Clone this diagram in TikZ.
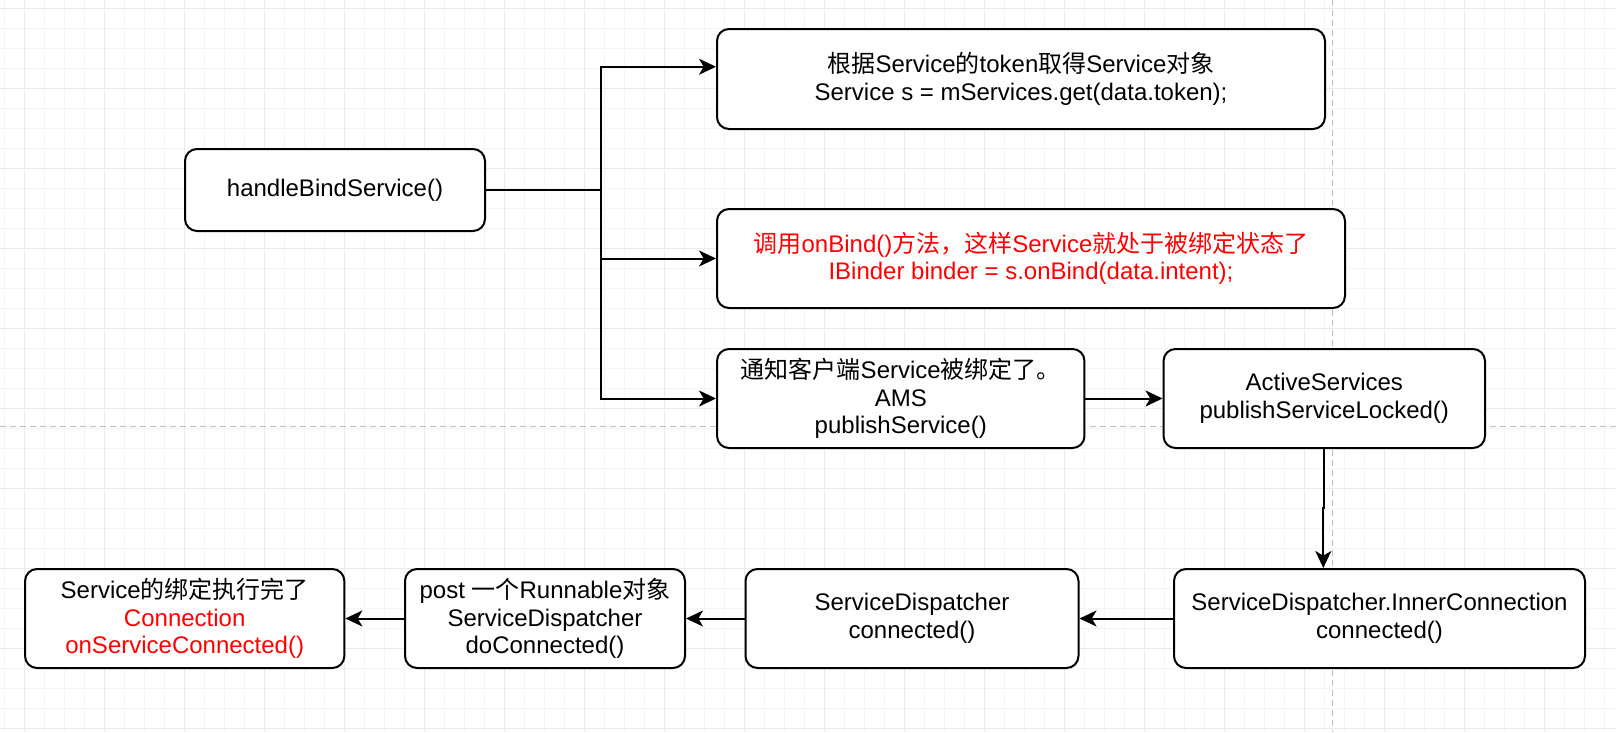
\documentclass[tikz,border=0pt]{standalone}
\usepackage{fontspec}
\setmainfont{Liberation Sans}
\newfontfamily\cjk{Noto Sans CJK SC}
\usetikzlibrary{arrows.meta}
\definecolor{gridmajor}{HTML}{EAEAEA}
\definecolor{gridminor}{HTML}{F5F5F5}
\definecolor{guide}{HTML}{BDBDBD}
\definecolor{txtred}{HTML}{FF0000}
\newcommand\zh[1]{{\cjk #1}}
\begin{document}
\begin{tikzpicture}[x=0.75pt,y=-0.75pt,
  box/.style={draw, line width=1.5pt, rounded corners=9pt, fill=white,
    align=center, inner sep=0pt, minimum height=74.25pt,
    font=\fontsize{18pt}{20.7pt}\selectfont},
  conn/.style={line width=1.5pt},
  arr/.style={line width=1.5pt, -{Stealth[length=12.75pt,width=12pt,inset=3.5pt]}},
  gminor/.style={draw=gridminor, line width=0.75pt},
  gmajor/.style={draw=gridmajor, line width=0.75pt},
  guideline/.style={draw=guide, line width=0.75pt, dash pattern=on 4.5pt off 3pt}]
\fill[white] (0,0) rectangle (1616,732);
\useasboundingbox (0,0) rectangle (1616,732);
% grid
\foreach \i in {0,...,80} {\draw[gminor] ({4.3+20*\i},0) -- ({4.3+20*\i},732);}
\foreach \i in {0,...,36} {\draw[gminor] (0,{8.3+20*\i}) -- (1616,{8.3+20*\i});}
\foreach \i in {0,...,19} {\draw[gmajor] ({24.3+80*\i},0) -- ({24.3+80*\i},732);}
\foreach \i in {0,...,9} {\draw[gmajor] (0,{8.3+80*\i}) -- (1616,{8.3+80*\i});}
% guides
\draw[guideline] (0,426.7) -- (1616,426.7);
\draw[guideline] (1332.7,0) -- (1332.7,732);
% nodes
\node[box, minimum width=225pt, minimum height=61.5pt] (hb) at (335,190) {handleBindService()};
\node[box, minimum width=456pt, minimum height=75pt] (b1) at (1021,79)
  {\zh{根据}Service\zh{的}token\zh{取得}Service\zh{对象}\\Service s = mServices.get(data.token);};
\node[box, minimum width=471pt, text=txtred] (b2) at (1031,258.5)
  {\zh{调用}onBind()\zh{方法，这样}Service\zh{就处于被绑定状态了}\\IBinder binder = s.onBind(data.intent);};
\node[box, minimum width=275.6pt] (b3) at (900.75,398.5)
  {\zh{通知客户端}Service\zh{被绑定了。}\\AMS\\publishService()};
\node[box, minimum width=241.1pt] (act) at (1324.25,398.5)
  {ActiveServices\\publishServiceLocked()};
\node[box, minimum width=308.25pt] (inner) at (1379.5,618.5)
  {ServiceDispatcher.InnerConnection\\connected()};
\node[box, minimum width=249.75pt] (sd) at (912,618.5)
  {ServiceDispatcher\\connected()};
\node[box, minimum width=210pt] (post) at (545,618.5)
  {post \zh{一个}Runnable\zh{对象}\\ServiceDispatcher\\doConnected()};
\node[box, minimum width=239.5pt] (svc) at (184.7,618.5)
  {Service\zh{的绑定执行完了}\\{\color{txtred}Connection}\\{\color{txtred}onServiceConnected()}};
% connectors
\coordinate (br) at (601,190);
\coordinate (jog) at (1323.3,508);
\draw[conn] (hb.east) -- (br);
\draw[arr] (br) |- ([yshift=9.2pt]b1.west);
\draw[arr] (br) |- (b2.west);
\draw[arr] (br) |- (b3.west);
\draw[arr] (b3.east) -- (act.west);
\draw[arr] (act.south) |- (jog) -- (jog |- inner.north);
\draw[arr] (inner.west) -- (sd.east);
\draw[arr] (sd.west) -- (post.east);
\draw[arr] (post.west) -- (svc.east);
\end{tikzpicture}
\end{document}
